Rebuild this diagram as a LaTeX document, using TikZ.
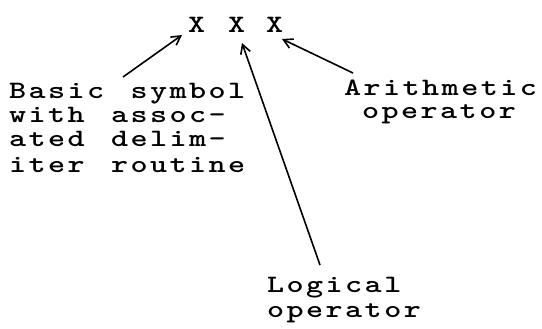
\documentclass[tikz,border=0pt]{standalone}
\usepackage{fontspec}
\newfontfamily\tw{lmmonolt10-bold.otf}[FakeStretch=1.3,LetterSpace=9.8,WordSpace=1.35]
\usetikzlibrary{arrows.meta}
\begin{document}
\begin{tikzpicture}[x=1pt,y=-1pt,
  lbl/.style={inner sep=0pt, anchor=base west, font=\tw\fontsize{25}{24}\selectfont},
  ptr/.style={line width=1.6pt, -{Straight Barb[length=9pt,width=10pt,line width=1.6pt]}}]
\useasboundingbox (0,0) rectangle (542,329);
% the three symbols
\node[lbl] (x1) at (188,33) {X};
\node[lbl] (x2) at (228,33) {X};
\node[lbl] (x3) at (266,33) {X};
% left label
\node[lbl] (b1) at (9,99) {Basic symbol};
\node[lbl] (b2) at (9,123) {with assoc-};
\node[lbl] (b3) at (9,147) {ated delim-};
\node[lbl] (b4) at (9,172) {iter routine};
% right label
\node[lbl] (a1) at (344,96) {Arithmetic};
\node[lbl] (a2) at (362,119) {operator};
% bottom label
\node[lbl] (l1) at (267,292) {Logical};
\node[lbl] (l2) at (267,317) {operator};
% connector ends
\coordinate (t1) at (123,77);
\coordinate (p1) at (182,35);
\coordinate (t2) at (320,265);
\coordinate (p2) at (242,43);
\coordinate (t3) at (353,73);
\coordinate (p3) at (282,39);
\draw[ptr] (t1) -- (p1);
\draw[ptr] (t2) -- (p2);
\draw[ptr] (t3) -- (p3);
\end{tikzpicture}
\end{document}
